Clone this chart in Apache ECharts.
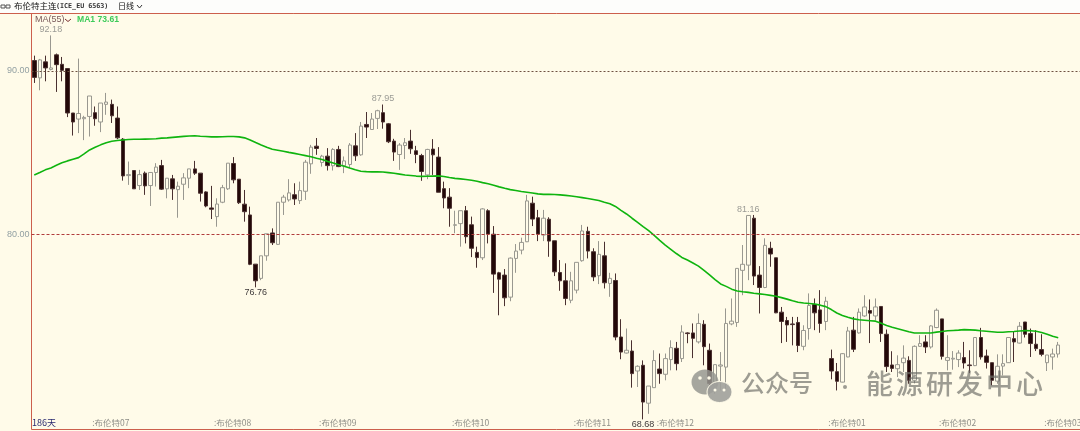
<!DOCTYPE html>
<html lang="zh">
<head>
<meta charset="UTF-8">
<title>布伦特主连</title>
<script src="https://cdn.jsdelivr.net/npm/echarts@6/dist/echarts.min.js"></script>
<style>
html,body{margin:0;padding:0;background:#fffbe9;}
#main{width:1080px;height:431px;}
</style>
</head>
<body>
<div id="main"></div>
<script>
// 日K数据，从图上读的
var opens = [
90.64,89.58,90.56,90.10,90.99,90.41,90.15,87.43,87.06,87.08,
87.22,87.45,86.88,87.96,87.96,87.12,85.83,83.60,83.91,82.99,
83.75,82.99,83.79,84.21,82.79,83.40,82.74,83.07,83.44,84.01,
83.75,82.60,81.62,81.09,81.97,82.79,84.34,83.38,81.85,81.19,
78.18,77.31,78.69,80.09,79.39,81.97,82.11,82.43,82.07,82.64,
84.32,85.40,84.40,84.79,84.20,85.20,84.20,84.28,85.42,84.87,
86.73,86.42,87.10,87.45,86.77,85.71,84.89,85.44,85.71,85.12,
84.83,83.64,85.22,84.73,82.80,82.28,80.56,80.66,81.45,80.59,
78.90,78.57,81.45,80.01,77.65,77.51,76.16,78.53,79.04,79.55,
81.91,81.02,79.96,80.93,79.61,77.67,77.16,75.97,76.59,78.39,
80.19,78.94,77.47,78.69,77.00,77.18,73.72,72.74,72.86,71.64,
71.99,69.67,70.62,71.76,71.44,72.34,73.03,72.40,73.97,73.97,
73.42,74.50,72.91,70.72,71.94,71.88,74.52,74.61,77.80,78.12,
80.99,77.51,76.75,79.15,78.57,75.24,74.73,74.52,74.61,73.15,
74.24,75.71,75.38,74.67,72.40,71.60,70.96,72.50,74.14,73.97,
75.01,75.34,75.01,75.59,73.89,72.01,71.78,72.15,72.29,71.07,
73.15,73.42,73.11,74.30,74.83,72.29,72.37,72.34,72.46,72.01,
71.97,73.69,72.56,72.15,71.02,71.94,72.15,73.62,73.35,74.64,
73.93,73.28,72.95,72.15,72.50,72.68
];
var closes = [
89.61,90.68,90.19,90.19,90.39,90.04,87.43,86.88,87.40,87.16,
88.47,87.08,88.04,88.10,87.26,85.91,83.58,83.66,82.79,83.66,
82.97,83.79,84.12,82.77,83.44,82.79,82.95,83.46,84.01,83.75,
82.52,81.74,81.54,81.86,82.86,84.36,83.34,81.94,81.39,78.17,
77.16,78.69,80.04,79.49,81.97,82.28,82.54,82.17,82.68,84.42,
85.34,85.26,84.79,84.21,85.20,84.15,84.50,85.47,84.81,86.63,
86.57,87.06,87.57,86.88,85.67,85.04,85.47,85.61,85.24,84.89,
83.85,85.20,84.87,82.58,82.23,81.60,80.59,81.45,79.86,79.15,
78.58,81.56,80.02,77.57,77.26,76.12,78.55,78.98,79.51,82.05,
80.94,80.02,80.99,79.59,77.71,77.16,76.08,77.16,78.29,80.21,
78.98,77.40,78.78,77.04,77.31,73.72,72.80,72.91,71.48,71.93,
69.74,70.72,72.28,71.48,72.40,73.07,72.09,74.03,73.93,73.64,
74.55,73.13,70.88,72.03,72.01,74.55,74.69,77.92,78.17,81.16,
77.45,76.75,79.33,78.80,75.20,74.67,74.46,74.48,73.20,74.12,
75.65,75.20,74.55,75.91,71.64,71.01,72.70,74.09,72.97,75.24,
75.56,75.18,75.56,73.93,71.91,71.80,72.03,72.43,71.07,73.15,
73.32,73.11,74.40,75.36,72.54,72.46,72.42,72.74,72.13,71.97,
73.69,72.50,72.17,71.07,71.93,72.09,73.69,73.42,74.38,73.89,
73.32,73.01,72.66,72.62,72.68,73.23
];
var highs = [
90.94,90.74,90.94,92.18,91.07,90.86,90.15,87.43,90.76,87.26,
88.47,87.83,88.04,88.66,88.25,87.83,85.90,84.46,83.91,83.95,
83.85,83.79,84.36,84.56,83.44,83.64,83.23,83.75,84.01,84.50,
83.75,82.64,82.97,82.21,83.03,84.36,84.73,83.38,82.72,81.70,
78.18,78.69,80.04,80.37,81.97,82.42,83.38,83.13,83.23,84.56,
85.48,85.90,84.87,85.28,85.28,85.42,84.77,85.59,86.20,86.88,
87.49,87.43,87.63,87.95,86.82,85.85,85.59,85.90,86.40,85.42,
84.93,85.24,85.83,85.34,83.23,82.83,81.45,81.45,81.74,81.09,
79.25,81.60,81.54,80.51,77.71,77.88,78.59,79.41,79.80,82.42,
82.31,81.50,81.50,81.05,79.61,78.43,78.23,77.71,78.29,80.58,
80.47,79.15,79.59,79.55,77.65,77.61,74.81,74.24,73.52,71.99,
72.29,70.72,72.91,72.71,72.71,73.52,73.42,74.44,74.01,74.55,
75.16,74.75,73.32,72.03,72.80,75.47,76.08,77.92,79.35,81.16,
81.19,78.06,79.76,79.55,78.57,75.56,74.95,74.95,74.95,74.44,
76.39,76.08,76.59,76.18,72.95,72.13,72.74,74.34,74.95,75.47,
76.28,76.02,76.08,75.59,74.18,72.85,72.60,73.21,72.54,73.21,
73.83,73.83,74.44,75.47,74.83,73.83,72.86,72.91,73.42,72.91,
73.72,74.28,72.95,72.15,72.66,72.66,73.72,74.03,74.64,74.64,
74.24,74.14,73.89,72.62,73.01,73.42
];
var lows = [
89.27,88.82,89.37,90.04,88.72,89.37,87.18,86.05,86.20,85.77,
85.99,86.65,86.26,87.32,86.82,85.83,83.29,83.03,82.79,82.72,
82.42,81.74,82.93,82.72,82.21,82.11,81.02,82.11,82.83,83.64,
82.01,81.66,80.94,80.47,81.91,82.72,83.13,81.86,80.78,78.12,
76.76,77.20,78.39,79.35,79.35,81.19,82.01,81.80,81.86,82.11,
83.71,84.87,84.15,83.91,83.91,84.12,83.75,84.05,84.50,84.81,
85.90,86.40,86.45,86.47,85.59,84.50,83.95,84.61,84.93,84.36,
83.28,83.38,83.64,82.58,81.60,80.47,80.07,79.25,79.45,78.61,
77.96,78.43,79.45,76.42,75.05,75.61,75.91,77.65,78.78,79.53,
80.51,79.59,79.59,78.63,77.45,76.55,75.67,75.79,76.39,78.33,
78.53,77.14,76.96,76.69,76.18,73.52,72.36,72.71,70.62,70.66,
68.68,69.02,70.62,70.86,71.07,71.68,71.68,72.19,73.34,72.43,
73.32,71.99,70.25,70.25,70.45,70.56,74.44,74.34,76.28,77.20,
76.90,75.16,76.71,78.02,75.18,73.35,73.42,73.21,72.80,72.91,
73.56,74.14,73.98,74.14,71.13,70.45,70.94,72.48,72.80,73.93,
74.95,73.35,74.75,73.42,71.58,71.58,71.27,71.58,70.86,70.88,
73.11,72.74,73.01,74.26,72.34,71.68,71.72,71.88,71.79,71.51,
71.94,72.34,71.79,70.76,70.86,71.37,72.13,72.19,73.32,73.69,
72.50,72.86,72.54,71.64,71.72,72.46
];
// MA55
var ma55 = [
83.64,83.79,83.95,84.07,84.23,84.38,84.50,84.60,84.70,84.93,
85.17,85.33,85.48,85.61,85.70,85.75,85.78,85.81,85.82,85.82,
85.83,85.84,85.85,85.89,85.91,85.94,85.97,86.00,86.02,86.04,
86.01,85.99,85.97,85.97,85.98,85.99,85.99,85.97,85.91,85.78,
85.62,85.47,85.33,85.21,85.15,85.09,85.02,84.96,84.89,84.82,
84.75,84.66,84.58,84.47,84.37,84.26,84.17,84.06,83.96,83.87,
83.84,83.83,83.83,83.82,83.78,83.74,83.69,83.64,83.61,83.57,
83.55,83.56,83.57,83.58,83.54,83.48,83.43,83.40,83.36,83.31,
83.25,83.17,83.10,83.01,82.91,82.82,82.74,82.69,82.63,82.58,
82.53,82.48,82.45,82.45,82.44,82.42,82.39,82.35,82.30,82.25,
82.20,82.14,82.07,81.97,81.88,81.71,81.47,81.25,80.99,80.74,
80.48,80.23,79.94,79.64,79.35,79.09,78.83,78.59,78.43,78.25,
78.06,77.80,77.52,77.23,76.97,76.82,76.65,76.54,76.49,76.45,
76.40,76.36,76.32,76.27,76.22,76.13,76.04,75.94,75.85,75.80,
75.77,75.74,75.67,75.58,75.40,75.19,75.04,74.93,74.83,74.78,
74.75,74.72,74.69,74.56,74.43,74.32,74.23,74.14,74.04,73.97,
73.97,73.97,73.97,74.02,74.06,74.10,74.12,74.14,74.17,74.16,
74.14,74.10,74.07,74.04,74.01,74.01,74.04,74.06,74.09,74.11,
74.10,74.07,74.00,73.89,73.77,73.68
];
// 月份标签所在的K线序号
var monthIndex = [11,33,52,76,98,113,144,164,183];
var monthLabels = ['布伦特07','布伦特08','布伦特09','布伦特10','布伦特11','布伦特12','布伦特01','布伦特02','布伦特03'];
var yTicks = [80,90];
// 高低点标注
var peakIndex = [3,63,129,40,110];
var peakValues = [92.18,87.95,81.16,76.76,68.68];
var peakSide = ['top','top','top','bottom','bottom'];

// 右边留了几根K线的空位
var categories = [];
var candleData = [];
for (var i = 0; i < opens.length; i++) {
	candleData.push([opens[i], closes[i], lows[i], highs[i]]);
}
for (var i = 0; i < opens.length + 4; i++) {
	categories.push(String(i));
}

var bg = '#fffbe9';
var frame = '#cc5f4c';
var fontCn = '"Noto Sans CJK SC", sans-serif';
var fontNum = '"Liberation Sans", sans-serif';
var markGray = 'rgba(110,110,105,0.68)';

var graphics = [
	{ type: 'rect', shape: { x: 0, y: 0, width: 1080, height: 13 }, style: { fill: '#fdfdfb' }, z: 1 },
	{ type: 'line', shape: { x1: 0, y1: 13.5, x2: 32, y2: 13.5 }, style: { stroke: frame }, z: 2 },
	{ type: 'rect', shape: { x: 1, y: 5, width: 4, height: 3 }, style: { fill: 'none', stroke: '#555' }, z: 2 },
	{ type: 'rect', shape: { x: 6, y: 5, width: 4, height: 3 }, style: { fill: 'none', stroke: '#555' }, z: 2 },
	{ type: 'text', x: 14, y: 2, style: { text: '布伦特主连', font: '8.5px ' + fontCn, fill: '#111' }, z: 2 },
	{ type: 'text', x: 56, y: 3, style: { text: '(ICE_EU 6563)', font: 'bold 6.7px "DejaVu Sans Mono", monospace', fill: '#333' }, z: 2 },
	{ type: 'text', x: 118, y: 2, style: { text: '日线', font: '8px ' + fontCn, fill: '#111' }, z: 2 },
	{ type: 'polyline', shape: { points: [[137, 5], [139.5, 8], [142, 5]] }, style: { stroke: '#333', fill: 'none', lineWidth: 1 }, z: 2 },
	{ type: 'text', x: 35, y: 15, style: { text: 'MA(55)', font: '9px ' + fontNum, fill: '#7a5a5a' }, z: 5 },
	{ type: 'polyline', shape: { points: [[65, 19], [68, 21.5], [71, 19]] }, style: { stroke: '#7a3030', fill: 'none', lineWidth: 1 }, z: 5 },
	{ type: 'text', x: 77, y: 15, style: { text: 'MA1 73.61', font: 'bold 8.6px ' + fontNum, fill: '#3ecb5a' }, z: 5 },
	{ type: 'text', x: 32, y: 418, style: { text: '186天', font: '9px ' + fontCn, fill: '#2a2a70' }, z: 5 },
	// 水印
	{ type: 'ellipse', shape: { cx: 705, cy: 382, rx: 13.5, ry: 12.5 }, style: { fill: 'rgba(150,150,145,0.85)' }, z: 6 },
	{ type: 'ellipse', shape: { cx: 719.5, cy: 392, rx: 12.5, ry: 10.5 }, style: { fill: 'rgba(160,160,155,0.9)', stroke: bg, lineWidth: 1 }, z: 6 },
	{ type: 'circle', shape: { cx: 700, cy: 378, r: 1.8 }, style: { fill: bg }, z: 7 },
	{ type: 'circle', shape: { cx: 709, cy: 378, r: 1.8 }, style: { fill: bg }, z: 7 },
	{ type: 'circle', shape: { cx: 715, cy: 390, r: 1.5 }, style: { fill: bg }, z: 7 },
	{ type: 'circle', shape: { cx: 724, cy: 390, r: 1.5 }, style: { fill: bg }, z: 7 },
	{ type: 'text', x: 741, y: 371, style: { text: '公众号', font: '500 24px ' + fontCn, fill: markGray }, z: 6 },
	{ type: 'circle', shape: { cx: 845, cy: 387, r: 2 }, style: { fill: markGray }, z: 6 }
];
'能源研发中心'.split('').forEach(function(ch, k) {
	graphics.push({ type: 'text', x: 866 + k * 30, y: 370, style: { text: ch, font: '500 27px ' + fontCn, fill: markGray }, z: 6 });
});

var myChart = echarts.init(document.getElementById('main'), null, { renderer: 'canvas' });
var option = {
	animation: false,
	backgroundColor: bg,
	grid: { show: true, left: 31.5, right: -3.15, top: 13.5, bottom: 1.5, borderColor: frame, borderWidth: 1, outerBoundsMode: 'none' },
	xAxis: {
		type: 'category',
		data: categories,
		boundaryGap: true,
		axisLine: { show: false },
		axisTick: { show: false },
		splitLine: { show: false },
		axisLabel: {
			inside: true,
			margin: 2,
			align: 'left',
			padding: [0, 0, 0, -3],
			hideOverlap: false,
			interval: function(idx) { return monthIndex.indexOf(idx) >= 0; },
			formatter: function(v) {
				return ':' + monthLabels[monthIndex.indexOf(Number(v))];
			},
			color: '#8f8f88',
			fontSize: 8.5,
			fontFamily: fontCn
		}
	},
	yAxis: {
		type: 'value',
		min: 68.06,
		max: 93.52,
		scale: true,
		axisLine: { show: false },
		axisTick: { show: false },
		splitLine: { show: false },
		axisLabel: {
			customValues: yTicks,
			margin: 2,
			color: '#93a0a3',
			fontSize: 9,
			fontFamily: fontNum,
			formatter: function(v) { return v.toFixed(2); }
		}
	},
	graphic: { elements: graphics },
	series: [{
		type: 'candlestick',
		data: candleData,
		barWidth: 4,
		itemStyle: {
			color: bg,
			color0: '#230808',
			borderColor: '#999890',
			borderColor0: '#4a3030',
			borderWidth: 1
		},
		markLine: {
			silent: true,
			symbol: 'none',
			animation: false,
			label: { show: false },
			data: [
				{ yAxis: yTicks[0], lineStyle: { color: '#b03a3a', type: [3, 2], width: 1 } },
				{ yAxis: yTicks[1], lineStyle: { color: '#6e5040', type: [2, 2], width: 1 } }
			]
		},
		markPoint: {
			symbol: 'circle',
			symbolSize: 0,
			animation: false,
			data: peakIndex.map(function(idx, k) {
				return {
					coord: [idx, peakValues[k]],
					value: peakValues[k],
					label: {
						show: true,
						position: peakSide[k],
						distance: 1,
						formatter: peakValues[k].toFixed(2),
						fontSize: 9,
						fontFamily: fontNum,
						color: peakSide[k] == 'top' ? '#9b9b95' : '#3f3a3a'
					}
				};
			})
		}
	}, {
		type: 'line',
		data: ma55,
		showSymbol: false,
		smooth: false,
		z: 4,
		lineStyle: { color: '#0fb40f', width: 1.6 }
	}]
};
myChart.setOption(option);
</script>
</body>
</html>
